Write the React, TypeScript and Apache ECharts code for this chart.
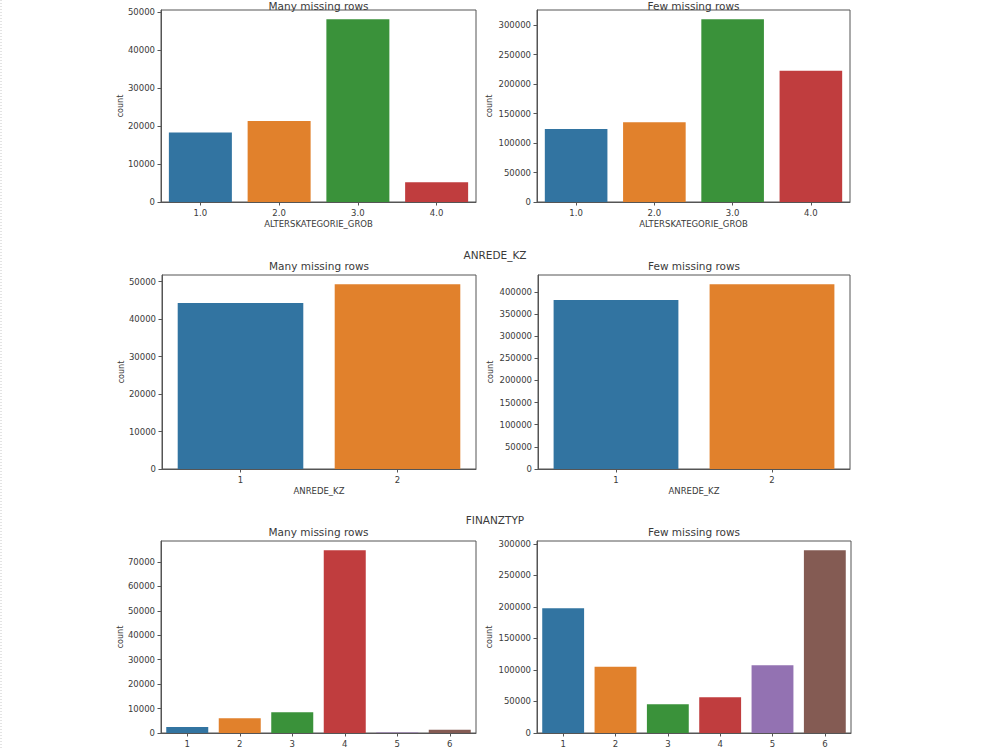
import React, { useEffect, useRef } from "react";
import * as echarts from "echarts";

// ALTERSKATEGORIE_GROB counts
const altersCategories = ["1.0", "2.0", "3.0", "4.0"];
const altersManyMissing = [18300, 21300, 48100, 5200];
const altersFewMissing = [124000, 135500, 310200, 222800];
const altersManyTicks = [0, 10000, 20000, 30000, 40000, 50000];
const altersFewTicks = [0, 50000, 100000, 150000, 200000, 250000, 300000];

// ANREDE_KZ counts
const anredeCategories = ["1", "2"];
const anredeManyMissing = [44300, 49300];
const anredeFewMissing = [381700, 417200];
const anredeManyTicks = [0, 10000, 20000, 30000, 40000, 50000];
const anredeFewTicks = [0, 50000, 100000, 150000, 200000, 250000, 300000, 350000, 400000];

// FINANZTYP counts
const finanzCategories = ["1", "2", "3", "4", "5", "6"];
const finanzManyMissing = [2500, 6000, 8500, 74800, 200, 1300];
const finanzFewMissing = [198000, 105000, 45500, 56500, 107500, 290000];
const finanzManyTicks = [0, 10000, 20000, 30000, 40000, 50000, 60000, 70000];
const finanzFewTicks = [0, 50000, 100000, 150000, 200000, 250000, 300000];

const barColors = ["#3274a1", "#e1812c", "#3a923a", "#c03d3e", "#9372b2", "#845b53"];

const FONT = "DejaVu Sans";
const TEXT = "#3a3a3a";
const AXIS = "#555";

type Panel = {
  rect: [number, number, number, number];
  categories: string[];
  values: number[];
  ticks: number[];
  title: string;
  xName: string;
  yNameGap: number;
};

const panels: Panel[] = [
  { rect: [161, 10, 315, 192], categories: altersCategories, values: altersManyMissing, ticks: altersManyTicks, title: "Many missing rows", xName: "ALTERSKATEGORIE_GROB", yNameGap: 37 },
  { rect: [537, 10, 313, 192], categories: altersCategories, values: altersFewMissing, ticks: altersFewTicks, title: "Few missing rows", xName: "ALTERSKATEGORIE_GROB", yNameGap: 44 },
  { rect: [162, 275, 314, 194], categories: anredeCategories, values: anredeManyMissing, ticks: anredeManyTicks, title: "Many missing rows", xName: "ANREDE_KZ", yNameGap: 37 },
  { rect: [538, 275, 312, 194], categories: anredeCategories, values: anredeFewMissing, ticks: anredeFewTicks, title: "Few missing rows", xName: "ANREDE_KZ", yNameGap: 44 },
  { rect: [161, 541, 315, 192], categories: finanzCategories, values: finanzManyMissing, ticks: finanzManyTicks, title: "Many missing rows", xName: "", yNameGap: 37 },
  { rect: [537, 541, 314, 192], categories: finanzCategories, values: finanzFewMissing, ticks: finanzFewTicks, title: "Few missing rows", xName: "", yNameGap: 44 },
];

const sectionTitles = [
  { text: "ANREDE_KZ", y: 255 },
  { text: "FINANZTYP", y: 520 },
];

function buildOption() {
  const grid = panels.map((p) => ({
    left: p.rect[0],
    top: p.rect[1],
    width: p.rect[2],
    height: p.rect[3],
    show: true,
    borderColor: AXIS,
    borderWidth: 1,
    backgroundColor: "transparent",
    containLabel: false,
    outerBoundsMode: "none",
  }));

  const xAxis = panels.map((p, i) => ({
    gridIndex: i,
    type: "category",
    data: p.categories,
    axisLine: { show: true, lineStyle: { color: AXIS, width: 1 } },
    axisTick: { show: true, alignWithLabel: true, length: 3.5, lineStyle: { color: AXIS } },
    axisLabel: { fontSize: 8.5, color: TEXT, margin: 6, fontFamily: FONT },
    splitLine: { show: false },
    name: p.xName,
    nameLocation: "middle",
    nameGap: 17,
    nameTextStyle: { fontSize: 8.5, color: TEXT, fontFamily: FONT },
  }));

  const yAxis = panels.map((p, i) => ({
    gridIndex: i,
    type: "value",
    min: 0,
    max: Math.max(...p.values) * 1.05,
    interval: p.ticks[1] - p.ticks[0],
    axisLine: { show: true, lineStyle: { color: AXIS, width: 1 } },
    axisTick: { show: true, length: 3.5, lineStyle: { color: AXIS }, customValues: p.ticks },
    axisLabel: {
      fontSize: 8.5,
      color: TEXT,
      margin: 6,
      fontFamily: FONT,
      customValues: p.ticks,
      formatter: (v: number) => String(Math.round(v)),
    },
    splitLine: { show: false },
    name: "count",
    nameLocation: "middle",
    nameGap: p.yNameGap,
    nameTextStyle: { fontSize: 8, color: TEXT, fontFamily: FONT },
  }));

  const series = panels.map((p, i) => ({
    type: "bar",
    xAxisIndex: i,
    yAxisIndex: i,
    barCategoryGap: "20%",
    data: p.values.map((v, j) => ({ value: v, itemStyle: { color: barColors[j] } })),
  }));

  // Subplot titles sit just above each frame; the top row is clamped to the page edge.
  const titleTexts = panels.map((p) => ({
    type: "text",
    x: p.rect[0] + p.rect[2] / 2,
    y: Math.max(0, p.rect[1] - 15),
    style: {
      text: p.title,
      align: "center",
      verticalAlign: "top",
      fontSize: 10.5,
      fontFamily: FONT,
      fill: TEXT,
    },
  }));

  const sectionTexts = sectionTitles.map((s) => ({
    type: "text",
    x: 495,
    y: s.y,
    style: {
      text: s.text,
      align: "center",
      verticalAlign: "middle",
      fontSize: 10.5,
      fontFamily: FONT,
      fill: TEXT,
    },
  }));

  return {
    animation: false,
    backgroundColor: "#fff",
    textStyle: { fontFamily: FONT },
    grid,
    xAxis,
    yAxis,
    series,
    graphic: [
      {
        type: "line",
        shape: { x1: 1, y1: 0, x2: 1, y2: 750 },
        style: { stroke: "#c8c8c8", lineWidth: 1, lineDash: [1, 2] },
      },
      ...titleTexts,
      ...sectionTexts,
    ],
  };
}

export default function App() {
  const ref = useRef<HTMLDivElement>(null);

  useEffect(() => {
    if (!ref.current) return;
    const chart = echarts.init(ref.current, null, { renderer: "svg" });
    chart.setOption(buildOption() as any);
    return () => chart.dispose();
  }, []);

  return (
    <div
      ref={ref}
      style={{ position: "fixed", left: 0, top: 0, width: 1000, height: 750, background: "#fff" }}
    />
  );
}
